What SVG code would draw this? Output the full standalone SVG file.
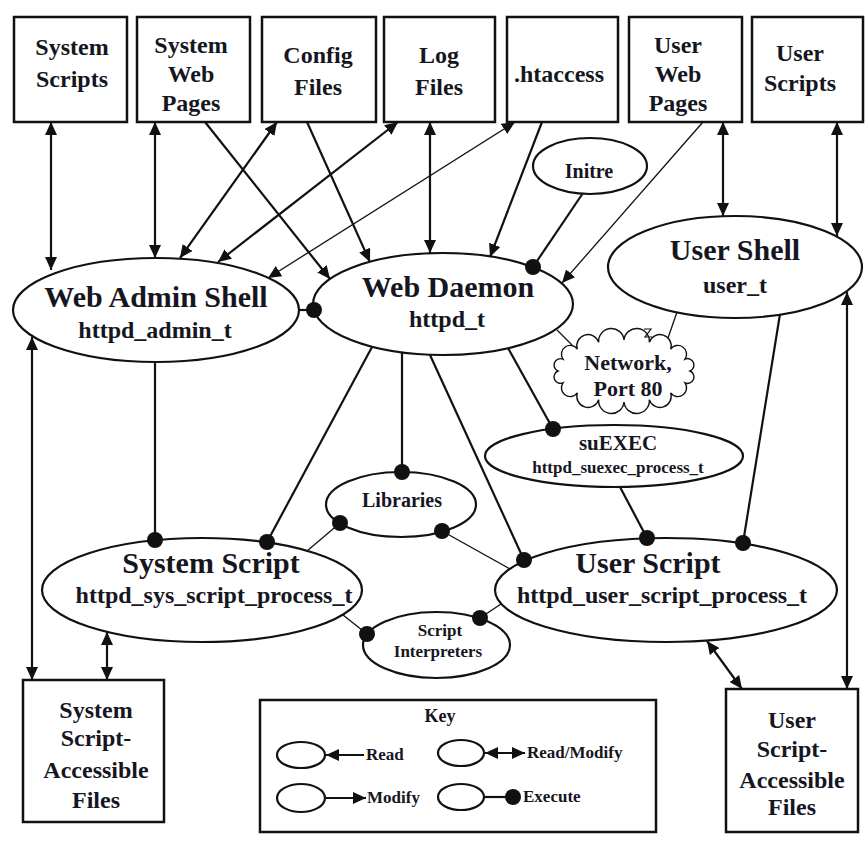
<svg xmlns="http://www.w3.org/2000/svg" width="867" height="843" viewBox="0 0 867 843">
<defs>
<style>
.box{fill:#fff;stroke:#111;stroke-width:2.5}
.ell{fill:#fff;stroke:#111;stroke-width:2.2}
text{font-family:"Liberation Serif","Times New Roman",serif;font-weight:bold;fill:#16161f;text-anchor:middle}
.lbl{font-size:24px}
.ttl{font-size:30px}
.sub{font-size:24px}
.sm{font-size:20px}
.xs{font-size:17px}
.c{fill:none;stroke:#111;stroke-width:2.2}
.th{stroke-width:1.3}
.k{font-size:17px;text-anchor:start}
.r{marker-end:url(#ah)}
.rw{marker-start:url(#ah);marker-end:url(#ah)}
.x{marker-end:url(#dot)}
</style>
<marker id="ah" viewBox="0 0 13 12" refX="13" refY="6" markerWidth="13" markerHeight="12" markerUnits="userSpaceOnUse" orient="auto-start-reverse"><path d="M0,0 L13,6 L0,12 z" fill="#111"/></marker>
<marker id="dot" viewBox="0 0 18 18" refX="9" refY="9" markerWidth="18" markerHeight="18" markerUnits="userSpaceOnUse"><circle cx="9" cy="9" r="8" fill="#111"/></marker>
</defs>
<rect width="867" height="843" fill="#fff"/>

<g id="system-scripts"><rect class="box" x="14" y="17" width="113" height="105"/><text class="lbl" x="72" y="55">System</text><text class="lbl" x="72" y="87">Scripts</text></g>
<g id="system-web-pages"><rect class="box" x="137" y="17" width="113" height="105"/><text class="lbl" x="191" y="53">System</text><text class="lbl" x="191" y="82">Web</text><text class="lbl" x="191" y="111">Pages</text></g>
<g id="config-files"><rect class="box" x="262" y="17" width="114" height="105"/><text class="lbl" x="318" y="63">Config</text><text class="lbl" x="318" y="95">Files</text></g>
<g id="log-files"><rect class="box" x="384" y="17" width="111" height="105"/><text class="lbl" x="439" y="63">Log</text><text class="lbl" x="439" y="95">Files</text></g>
<g id="htaccess"><rect class="box" x="507" y="17" width="111" height="105"/><text class="lbl" x="559" y="82">.htaccess</text></g>
<g id="user-web-pages"><rect class="box" x="629" y="17" width="113" height="105"/><text class="lbl" x="678" y="53">User</text><text class="lbl" x="678" y="82">Web</text><text class="lbl" x="678" y="111">Pages</text></g>
<g id="user-scripts"><rect class="box" x="752" y="17" width="111" height="105"/><text class="lbl" x="800" y="61">User</text><text class="lbl" x="800" y="91">Scripts</text></g>

<g id="initre"><ellipse class="ell" cx="590" cy="166" rx="57" ry="28"/><text class="sm" x="589" y="178">Initre</text></g>
<g id="web-admin-shell"><ellipse class="ell" cx="156" cy="310" rx="143" ry="52"/><text class="ttl" x="156" y="307">Web Admin Shell</text><text class="sub" x="155" y="338">httpd_admin_t</text></g>
<g id="web-daemon"><ellipse class="ell" cx="443" cy="304" rx="130" ry="51"/><text class="ttl" x="448" y="297">Web Daemon</text><text class="sub" x="447" y="327">httpd_t</text></g>
<g id="user-shell"><ellipse class="ell" cx="735" cy="267" rx="127" ry="51"/><text class="ttl" x="735" y="260">User Shell</text><text class="sub" x="735" y="293">user_t</text></g>
<g id="network"><path class="ell" d="M690,371 A1,1 0 0 1 685,382.9 A1,1 0 0 1 670.7,392.9 A1,1 0 0 1 649.3,399.6 A1,1 0 0 1 624,402 A1,1 0 0 1 598.7,399.6 A1,1 0 0 1 577.3,392.9 A1,1 0 0 1 563,382.9 A1,1 0 0 1 558,371 A1,1 0 0 1 563,359.1 A1,1 0 0 1 577.3,349.1 A1,1 0 0 1 598.7,342.4 A1,1 0 0 1 624,340 A1,1 0 0 1 649.3,342.4 A1,1 0 0 1 670.7,349.1 A1,1 0 0 1 685,359.1 A1,1 0 0 1 690,371 Z" style="stroke-width:1.4"/><path d="M644,329 L651,329 L645,337 L652,337" fill="none" stroke="#111" stroke-width="1.2"/><text x="628" y="370" style="font-size:22px">Network,</text><text x="628" y="396" style="font-size:22px">Port 80</text></g>
<g id="suexec"><ellipse class="ell" cx="614" cy="456" rx="129" ry="31"/><text x="618" y="450" style="font-size:21px">suEXEC</text><text x="618" y="473" style="font-size:17px">httpd_suexec_process_t</text></g>
<g id="libraries"><ellipse class="ell" cx="401" cy="504.5" rx="75" ry="32.5"/><text class="sm" x="402" y="507">Libraries</text></g>
<g id="system-script"><ellipse class="ell" cx="202" cy="590" rx="160" ry="52"/><text class="ttl" x="211" y="573">System Script</text><text class="sub" x="214" y="603">httpd_sys_script_process_t</text></g>
<g id="user-script"><ellipse class="ell" cx="666" cy="590" rx="171" ry="52"/><text class="ttl" x="648" y="573">User Script</text><text class="sub" x="662" y="603">httpd_user_script_process_t</text></g>
<g id="script-interpreters"><ellipse class="ell" cx="436.5" cy="645" rx="73.5" ry="33"/><text class="xs" x="440" y="636">Script</text><text class="xs" x="438" y="657">Interpreters</text></g>
<g id="system-script-files"><rect class="box" x="23" y="680" width="141" height="142"/><text class="lbl" x="96" y="718">System</text><text class="lbl" x="96" y="746">Script-</text><text class="lbl" x="96" y="778">Accessible</text><text class="lbl" x="96" y="808">Files</text></g>
<g id="user-script-files"><rect class="box" x="726" y="689" width="132" height="143"/><text class="lbl" x="792" y="728">User</text><text class="lbl" x="792" y="757">Script-</text><text class="lbl" x="792" y="788">Accessible</text><text class="lbl" x="792" y="815">Files</text></g>

<g id="connectors">
<path class="c rw" d="M51,122 L51,270"/>
<path class="c rw" d="M155,122 L155,258"/>
<path class="c r" d="M205,122 L330,279"/>
<path class="c rw" d="M277,122 L180,258"/>
<path class="c rw" d="M398,122 L218,262"/>
<path class="c th rw" d="M515,122 L268,278"/>
<path class="c r" d="M307,122 L370,262"/>
<path class="c rw" d="M430,122 L430,253"/>
<path class="c r" d="M542,122 L490,257"/>
<path class="c x" d="M583,193 L533,267"/>
<path class="c th r" d="M703,122 L562,283"/>
<path class="c rw" d="M723,122 L723,216"/>
<path class="c rw" d="M837,122 L837,236"/>
<path class="c x" d="M298,310 L314,310"/>
<path class="c x" d="M155,362 L155,540"/>
<path class="c x" d="M372,347 L267,542"/>
<path class="c x" d="M402,353 L402,472"/>
<path class="c x" d="M430,355 L524,560"/>
<path class="c x" d="M508,348 L553,429"/>
<path class="c x" d="M620,487 L647,538"/>
<path class="c x" d="M780,314 L743,543"/>
<path class="c th x" d="M307,551 L340,523"/>
<path class="c th x" d="M510,569 L442,531"/>
<path class="c th x" d="M343,615 L367,634"/>
<path class="c th x" d="M501,604 L480,618"/>
<path class="c rw" d="M32,337 L32,680"/>
<path class="c rw" d="M107,632 L107,680"/>
<path class="c rw" d="M707,641 L742,689"/>
<path class="c rw" d="M847,292 L847,689"/>
<path class="c th" d="M557,330 L572,345"/>
<path class="c th" d="M677,312 L668,338"/>
</g>

<g id="key">
<rect class="box" x="260" y="700" width="396" height="132"/>
<text x="440" y="722" style="font-size:18px">Key</text>
<ellipse class="ell" cx="301" cy="755" rx="24" ry="13"/>
<path class="c r" d="M364,755 L326,755"/>
<text class="k" x="366" y="760">Read</text>
<ellipse class="ell" cx="461" cy="753" rx="23" ry="13"/>
<path class="c rw" d="M485,753 L525,753"/>
<text class="k" x="527" y="758">Read/Modify</text>
<ellipse class="ell" cx="301" cy="798" rx="24" ry="14"/>
<path class="c r" d="M325,798 L366,798"/>
<text class="k" x="367" y="803">Modify</text>
<ellipse class="ell" cx="461" cy="797" rx="23" ry="13"/>
<path class="c x" d="M484,797 L513,797"/>
<text class="k" x="523" y="802">Execute</text>
</g>
</svg>
